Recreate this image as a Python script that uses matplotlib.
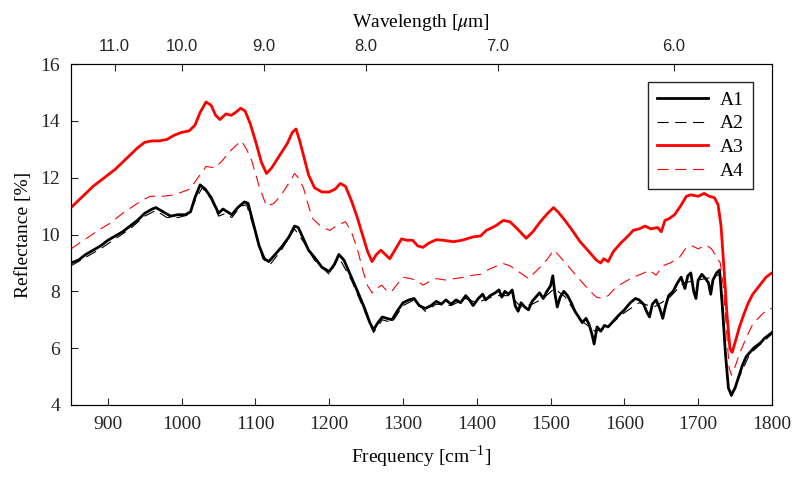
import numpy as np
import matplotlib
matplotlib.use('Agg')
import matplotlib.pyplot as plt

plt.rcParams['font.family'] = 'Liberation Serif'
plt.rcParams['mathtext.fontset'] = 'stix'

# A1 - black solid
a1_f = [850, 860, 870, 880, 890, 900, 910, 920, 930, 940, 950, 960, 965, 975, 985, 995,
        1005, 1012, 1018, 1025, 1032, 1040, 1050, 1056, 1062, 1068, 1076, 1085, 1090, 1097,
        1105, 1112, 1118, 1125, 1135, 1145, 1153, 1158, 1165, 1172, 1180, 1190, 1200, 1207,
        1213, 1220, 1230, 1240, 1248, 1255, 1260, 1266, 1272, 1278, 1285, 1292, 1300, 1308,
        1315, 1322, 1330, 1338, 1345, 1352, 1358, 1365, 1372, 1378, 1385, 1390, 1395, 1402,
        1408, 1412, 1418, 1425, 1430, 1434, 1438, 1443, 1448, 1452, 1456, 1460, 1465, 1470,
        1475, 1480, 1485, 1490, 1495, 1500, 1503, 1506, 1509, 1513, 1518, 1523, 1528, 1533,
        1538, 1543, 1548, 1552, 1556, 1559, 1563, 1568, 1573, 1578, 1585, 1592, 1600, 1608,
        1615, 1620, 1626, 1630, 1634, 1638, 1643, 1648, 1652, 1656, 1660, 1666, 1672, 1677,
        1682, 1686, 1690, 1694, 1697, 1700, 1705, 1710, 1714, 1717, 1720, 1725, 1729, 1733,
        1737, 1741, 1745, 1750, 1755, 1760, 1765, 1770, 1775, 1780, 1785, 1790, 1795, 1800]
a1 = [9.0, 9.1, 9.3, 9.45, 9.6, 9.8, 9.95, 10.1, 10.3, 10.5, 10.75, 10.9, 10.95, 10.8, 10.65, 10.7,
      10.7, 10.8, 11.3, 11.75, 11.6, 11.3, 10.75, 10.9, 10.8, 10.7, 10.95, 11.15, 11.1, 10.4,
      9.6, 9.15, 9.05, 9.25, 9.55, 9.9, 10.3, 10.25, 9.85, 9.45, 9.2, 8.85, 8.7, 8.95,
      9.3, 9.1, 8.5, 7.9, 7.4, 6.9, 6.65, 6.9, 7.1, 7.05, 7.0, 7.3, 7.6, 7.7,
      7.75, 7.5, 7.4, 7.5, 7.65, 7.55, 7.7, 7.55, 7.7, 7.6, 7.85, 7.7, 7.5, 7.75,
      7.9, 7.7, 7.85, 7.95, 8.05, 7.8, 8.0, 7.9, 8.05, 7.5, 7.3, 7.6, 7.45, 7.35,
      7.65, 7.8, 7.95, 7.75, 8.0, 8.2, 8.55, 7.9, 7.45, 7.8, 8.0, 7.85, 7.6, 7.3,
      7.1, 6.9, 7.05, 6.85, 6.5, 6.15, 6.75, 6.6, 6.8, 6.75, 6.95, 7.15, 7.35, 7.6,
      7.75, 7.7, 7.55, 7.3, 7.1, 7.55, 7.7, 7.4, 7.05, 7.5, 7.85, 8.0, 8.3, 8.5,
      8.1, 8.55, 8.65, 8.0, 7.75, 8.4, 8.6, 8.45, 8.3, 7.9, 8.4, 8.65, 8.75, 7.4,
      5.8, 4.6, 4.35, 4.6, 5.0, 5.4, 5.7, 5.85, 6.0, 6.1, 6.2, 6.35, 6.45, 6.55]

# A2 - black dashed
a2_f = [850, 870, 890, 910, 930, 950, 965, 980, 995, 1010, 1020, 1028, 1040, 1050, 1060, 1068,
        1080, 1088, 1097, 1110, 1120, 1135, 1153, 1165, 1180, 1200, 1213, 1230, 1248, 1260,
        1272, 1285, 1300, 1315, 1330, 1345, 1365, 1385, 1400, 1425, 1445, 1460, 1475, 1490,
        1505, 1520, 1540, 1560, 1575, 1600, 1620, 1640, 1660, 1680, 1700, 1720, 1729, 1733,
        1737, 1741, 1745, 1755, 1770, 1785, 1800]
a2 = [8.9, 9.2, 9.5, 9.85, 10.2, 10.65, 10.85, 10.6, 10.6, 10.7, 11.3, 11.65, 11.25, 10.65, 10.75, 10.6,
      11.0, 11.05, 10.3, 9.15, 8.95, 9.45, 10.2, 9.75, 9.1, 8.6, 9.2, 8.4, 7.3, 6.55,
      7.0, 6.9, 7.5, 7.7, 7.3, 7.55, 7.5, 7.75, 7.6, 7.85, 7.85, 7.45, 7.55, 7.75,
      8.1, 7.8, 7.0, 6.6, 6.7, 7.25, 7.6, 7.45, 7.75, 8.3, 8.4, 8.5, 8.6, 7.3,
      5.7, 4.55, 4.3, 4.95, 5.8, 6.15, 6.5]

# A3 - red solid
a3_f = [850, 860, 870, 880, 890, 900, 910, 920, 930, 940, 950, 960, 970, 980, 990, 1000,
        1010, 1018, 1025, 1033, 1040, 1046, 1052, 1060, 1067, 1073, 1080, 1086, 1093, 1100,
        1108, 1115, 1122, 1133, 1143, 1150, 1155, 1160, 1166, 1172, 1180, 1190, 1200, 1208,
        1215, 1222, 1230, 1238, 1245, 1252, 1258, 1264, 1270, 1276, 1282, 1290, 1298, 1305,
        1313, 1320, 1327, 1335, 1345, 1355, 1368, 1380, 1395, 1405, 1413, 1425, 1436, 1445,
        1455, 1467, 1476, 1486, 1496, 1504, 1510, 1518, 1528, 1540, 1552, 1562, 1568, 1572,
        1578, 1585, 1595, 1605, 1612, 1620, 1628, 1636, 1645, 1650, 1655, 1660, 1668, 1676,
        1684, 1690, 1700, 1708, 1715, 1722, 1727, 1731, 1735, 1739, 1743, 1746, 1750, 1756,
        1762, 1768, 1774, 1780, 1786, 1792, 1797, 1800]
a3 = [10.95, 11.2, 11.45, 11.7, 11.9, 12.1, 12.3, 12.55, 12.8, 13.05, 13.25, 13.3, 13.3, 13.35, 13.5, 13.6,
      13.65, 13.85, 14.3, 14.67, 14.55, 14.2, 14.05, 14.25, 14.2, 14.3, 14.45, 14.35, 13.9, 13.3,
      12.55, 12.15, 12.35, 12.8, 13.2, 13.6, 13.72, 13.3, 12.7, 12.1, 11.65, 11.5, 11.5, 11.6,
      11.8, 11.7, 11.2, 10.6, 10.0, 9.4, 9.05, 9.3, 9.45, 9.3, 9.15, 9.5, 9.85, 9.8,
      9.8, 9.6, 9.55, 9.7, 9.82, 9.8, 9.75, 9.8, 9.92, 9.95, 10.15, 10.3, 10.5, 10.45,
      10.2, 9.87, 10.1, 10.45, 10.75, 10.95, 10.8, 10.55, 10.2, 9.75, 9.4, 9.1, 9.0, 9.15,
      9.05, 9.4, 9.7, 9.95, 10.15, 10.2, 10.3, 10.2, 10.25, 10.1, 10.5, 10.55, 10.7, 11.0,
      11.35, 11.4, 11.35, 11.45, 11.35, 11.3, 11.05, 10.3, 8.8, 7.2, 6.0, 5.85, 6.2, 6.75,
      7.2, 7.6, 7.9, 8.1, 8.3, 8.5, 8.6, 8.65]

# A4 - red dashed
a4_f = [850, 870, 890, 903, 920, 940, 957, 975, 990, 1011, 1022, 1033, 1045, 1055, 1064, 1072,
        1081, 1088, 1095, 1105, 1115, 1125, 1135, 1145, 1153, 1158, 1165, 1172, 1178, 1190,
        1201, 1212, 1222, 1230, 1238, 1246, 1252, 1258, 1264, 1271, 1277, 1284, 1292, 1300,
        1310, 1318, 1327, 1336, 1345, 1358, 1370, 1383, 1395, 1405, 1418, 1428, 1436, 1445,
        1454, 1462, 1470, 1478, 1486, 1496, 1504, 1510, 1520, 1530, 1540, 1552, 1562, 1570,
        1578, 1585, 1595, 1605, 1612, 1622, 1634, 1643, 1652, 1662, 1675, 1684, 1692, 1700,
        1711, 1718, 1724, 1730, 1734, 1738, 1742, 1745, 1750, 1756, 1764, 1774, 1785, 1793, 1800]
a4 = [9.5, 9.85, 10.2, 10.4, 10.75, 11.1, 11.35, 11.35, 11.4, 11.6, 12.0, 12.4, 12.35, 12.6, 12.9, 13.1,
      13.3, 13.0, 12.6, 11.7, 11.0, 11.1, 11.4, 11.8, 12.15, 12.0, 11.65, 11.0, 10.55, 10.25,
      10.15, 10.35, 10.45, 10.1, 9.5, 8.7, 8.2, 7.95, 8.1, 8.22, 8.05, 7.98, 8.25, 8.5,
      8.45, 8.4, 8.22, 8.35, 8.45, 8.4, 8.45, 8.5, 8.57, 8.6, 8.8, 8.9, 8.98, 8.9,
      8.74, 8.6, 8.45, 8.65, 8.86, 9.15, 9.45, 9.3, 9.0, 8.7, 8.4, 8.05, 7.8, 7.75,
      7.85, 8.05, 8.25, 8.4, 8.5, 8.6, 8.74, 8.57, 8.9, 9.0, 9.21, 9.55, 9.6, 9.5,
      9.63, 9.5, 9.25, 9.0, 8.2, 6.8, 5.3, 5.05, 5.35, 5.8, 6.3, 6.85, 7.15, 7.35, 7.4]

wavelengths = [11.0, 10.0, 9.0, 8.0, 7.0, 6.0]

fig = plt.figure(figsize=(7.95, 4.79), dpi=100)
ax = fig.add_axes([0.0893, 0.1545, 0.8817, 0.7115])

ax.plot(a1_f, a1, color='k', lw=2.0, label='A1')
ax.plot(a2_f, a2, color='k', lw=0.8, ls=(0, (10, 6)), label='A2')
ax.plot(a3_f, a3, color='#ff0000', lw=2.0, label='A3')
ax.plot(a4_f, a4, color='#ff0000', lw=0.8, ls=(0, (10, 6)), label='A4')

ax.set_xlim(850, 1800)
ax.set_ylim(4, 16)
ax.set_xticks(range(900, 1801, 100))
ax.set_yticks(range(4, 17, 2))
ax.tick_params(direction='in', length=5, labelsize=14, colors='#262626', pad=8)
for s in ax.spines.values():
    s.set_color('#262626')
ax.set_xlabel('Frequency [cm$^{\\mathregular{-1}}$]', fontsize=14, labelpad=8)
ax.set_ylabel('Reflectance [%]', fontsize=14, labelpad=6)

# top axis with wavelength
ax2 = ax.twiny()
ax2.set_xlim(ax.get_xlim())
ax2.set_xticks([1e4 / w for w in wavelengths])
ax2.set_xticklabels(['%.1f' % w for w in wavelengths], family='Liberation Sans')
ax2.tick_params(direction='in', length=5, labelsize=12, colors='#262626', pad=7)
ax2.set_xlabel('Wavelength [$\\mu$m]', fontsize=14, labelpad=9)

leg = ax.legend(loc='upper right', bbox_to_anchor=(0.973, 0.947), fontsize=14,
                frameon=True, fancybox=False, edgecolor='#262626', framealpha=1,
                handlelength=2.6, handletextpad=0.65, labelspacing=0.32,
                borderpad=0.45, borderaxespad=0)
leg.get_frame().set_linewidth(1.0)

fig.savefig('out.png', dpi=100)
